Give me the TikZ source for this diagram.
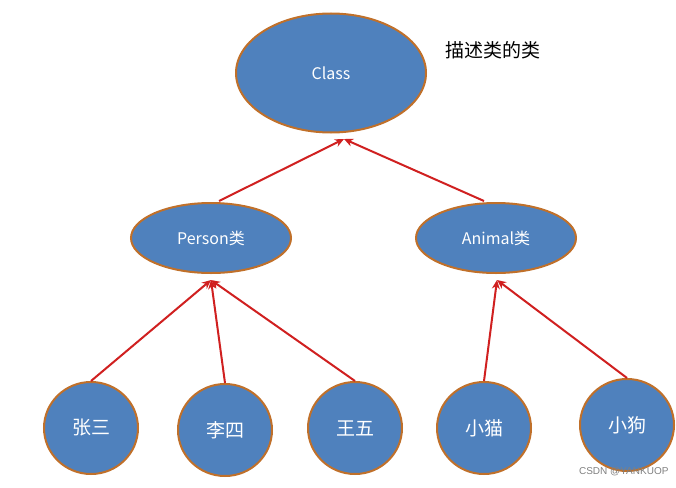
\documentclass[tikz,border=0pt]{standalone}
\usepackage{fontspec}
\setsansfont{Liberation Sans}
\newfontfamily\cjk{Noto Sans CJK SC}
\usetikzlibrary{arrows.meta,shapes.geometric}
\definecolor{nodeblue}{HTML}{4F81BD}
\definecolor{nodeedge}{HTML}{C0702A}
\definecolor{linkred}{HTML}{D02020}

\tikzset{
  classnode/.style={ellipse, draw=nodeedge, line width=2pt, fill=nodeblue,
    text=white, font=\cjk\fontsize{16}{18}\selectfont, inner sep=0pt},
  leafnode/.style={classnode, font=\cjk\fontsize{19}{21}\selectfont},
  link/.style={-{Stealth[length=9pt,width=8pt]}, linkred, line width=2pt}
}

\begin{document}
\begin{tikzpicture}[x=1pt,y=-1pt]
\useasboundingbox (0,0) rectangle (676,487);

% top level
\node[classnode, minimum width=190pt, minimum height=119pt] (class) at (331,73) {Class};
\node[font=\cjk\fontsize{19}{21}\selectfont, anchor=west] (caption) at (442,50) {描述类的类};

% second level
\node[classnode, minimum width=160pt, minimum height=70pt] (person) at (211,238) {Person类};
\node[classnode, minimum width=160pt, minimum height=70pt] (animal) at (496,238) {Animal类};

% leaves
\node[leafnode, minimum width=94pt, minimum height=92pt] (zs) at (91,428) {张三};
\node[leafnode, minimum width=94pt, minimum height=92pt] (ls) at (225,430) {李四};
\node[leafnode, minimum width=94pt, minimum height=92pt] (ww) at (355,428) {王五};
\node[leafnode, minimum width=94pt, minimum height=92pt] (xm) at (484,428) {小猫};
\node[leafnode, minimum width=94pt, minimum height=92pt] (xg) at (627,425) {小狗};

% arrow ends
\coordinate (classin) at (344,139);
\coordinate (personin) at (211,280);
\coordinate (animalin) at (497,280);

\draw[link] (person.north) ++(8,-1) -- (classin);
\draw[link] (animal.north) ++(-12,-1) -- (classin);
\draw[link] (zs.north) -- (personin);
\draw[link] (ls.north) -- (personin);
\draw[link] (ww.north) -- (personin);
\draw[link] (xm.north) -- (animalin);
\draw[link] (xg.north) -- (animalin);

% watermark
\node[font=\sffamily\fontsize{10}{11}\selectfont, text=gray, anchor=east] (mark) at (672,472) {CSDN @YANKUOP};
\end{tikzpicture}
\end{document}
